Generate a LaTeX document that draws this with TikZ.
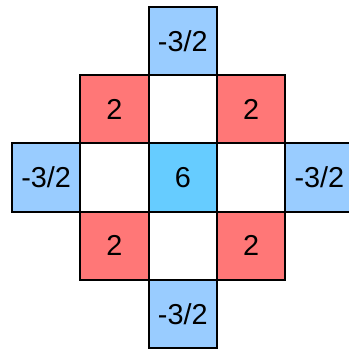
\documentclass[tikz,border=0pt]{standalone}
\usepackage{fontspec}
\setmainfont{Liberation Sans}
\definecolor{lightblue}{HTML}{99CCFF}
\definecolor{lightred}{HTML}{FF7777}
\definecolor{midblue}{HTML}{66CCFF}
\tikzset{
  cell/.style={draw=black, line width=0.75pt, minimum size=0.9cm, inner sep=0pt,
    font=\fontsize{10.8}{13}\selectfont},
  bluecell/.style={cell, fill=lightblue},
  redcell/.style={cell, fill=lightred},
  centercell/.style={cell, fill=midblue},
  emptycell/.style={cell, fill=white}
}

\begin{document}
\begin{tikzpicture}[x=0.9cm,y=0.9cm]
\useasboundingbox (-0.176,0.1) rectangle (4.934,-5.01);
\node[bluecell] (top) at (2.5,-0.5) {-3/2};
\node[redcell] (upleft) at (1.5,-1.5) {2};
\node[emptycell] (upmid) at (2.5,-1.5) {};
\node[redcell] (upright) at (3.5,-1.5) {2};
\node[bluecell] (left) at (0.5,-2.5) {-3/2};
\node[emptycell] (midleft) at (1.5,-2.5) {};
\node[centercell] (center) at (2.5,-2.5) {6};
\node[emptycell] (midright) at (3.5,-2.5) {};
\node[bluecell] (right) at (4.5,-2.5) {-3/2};
\node[redcell] (lowleft) at (1.5,-3.5) {2};
\node[emptycell] (lowmid) at (2.5,-3.5) {};
\node[redcell] (lowright) at (3.5,-3.5) {2};
\node[bluecell] (bottom) at (2.5,-4.5) {-3/2};
\end{tikzpicture}
\end{document}
